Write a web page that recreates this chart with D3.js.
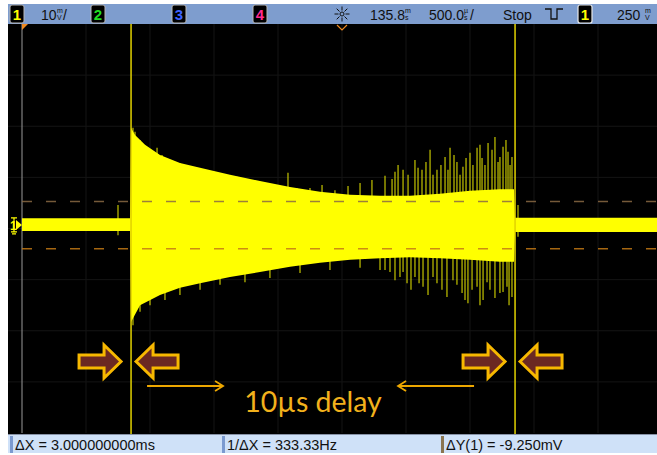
<!DOCTYPE html>
<html>
<head>
<meta charset="utf-8">
<script src="https://cdn.jsdelivr.net/npm/d3@7"></script>
<style>
  body { margin: 0; background: #fff; }
  svg { display: block; }
</style>
</head>
<body>
<div class="scope-view"></div>
<script>
// time in ms relative to trigger, voltage in mV relative to channel 1 ground
coreUpper = [[-2.5, 1.3], [-1.656, 1.3], [-1.648, 19.0], [-1.617, 17.6], [-1.539, 15.7], [-1.422, 13.7],
  [-1.266, 12.1], [-1.109, 11.2], [-0.875, 9.8], [-0.641, 8.6], [-0.406, 7.4], [-0.172, 6.5],
  [0.063, 5.9], [0.297, 5.7], [0.531, 5.7], [0.766, 6.1], [1.0, 6.7], [1.234, 7.0], [1.344, 7.0],
  [1.352, 1.4], [2.5, 1.4]];
coreLower = [[-2.5, -1.2], [-1.656, -1.2], [-1.648, -19.0], [-1.578, -15.7], [-1.422, -13.7],
  [-1.266, -12.3], [-1.109, -11.4], [-0.875, -10.2], [-0.641, -9.2], [-0.406, -8.2], [-0.172, -7.4],
  [0.063, -6.8], [0.297, -6.5], [0.531, -6.3], [0.766, -6.5], [1.0, -6.8], [1.234, -7.2], [1.344, -7.2],
  [1.352, -1.4], [2.5, -1.4]];
spikesUp = [[-1.75, 3.9], [-1.633, 19.0], [-1.617, 18.2], [-1.578, 16.6], [-1.539, 15.3], [-1.5, 14.3],
  [-1.445, 15.1], [-1.406, 13.7], [-1.367, 12.7], [-1.328, 12.3], [-1.266, 12.1], [-1.211, 11.4],
  [-1.133, 11.2], [-1.086, 10.4], [-1.031, 10.2], [-0.977, 9.8], [-0.898, 9.4], [-0.820, 9.4],
  [-0.742, 8.4], [-0.664, 8.4], [-0.586, 8.2], [-0.508, 7.8], [-0.422, 10.2], [-0.352, 7.2],
  [-0.25, 7.2], [-0.156, 7.8], [-0.055, 6.8], [0.047, 7.6], [0.141, 8.2], [0.234, 8.8], [0.336, 9.6],
  [0.391, 9.0], [0.414, 10.4], [0.438, 11.7], [0.477, 10.8], [0.516, 9.8], [0.570, 12.7], [0.594, 11.2],
  [0.625, 10.8], [0.656, 12.3], [0.688, 14.7], [0.711, 9.8], [0.742, 10.8], [0.773, 11.7],
  [0.805, 13.3], [0.828, 10.8], [0.844, 15.1], [0.875, 13.7], [0.898, 12.3], [0.922, 9.8],
  [0.945, 11.4], [0.969, 13.1], [1.0, 14.1], [1.023, 11.7], [1.055, 15.1], [1.078, 15.7],
  [1.094, 13.1], [1.117, 11.7], [1.141, 16.0], [1.172, 14.7], [1.195, 17.2], [1.219, 12.3],
  [1.234, 13.3], [1.258, 15.3], [1.281, 16.6], [1.297, 14.3], [1.313, 11.7], [1.328, 13.3], [1.375, 3.9]];
spikesDown = [[-1.75, -2.0], [-1.633, -19.6], [-1.578, -17.0], [-1.5, -15.7], [-1.383, -14.7],
  [-1.266, -13.7], [-1.109, -12.7], [-0.953, -11.7], [-0.758, -11.2], [-0.563, -10.4], [-0.328, -9.4],
  [-0.094, -8.8], [0.141, -8.4], [0.297, -8.8], [0.336, -8.8], [0.375, -9.2], [0.414, -10.8],
  [0.453, -10.2], [0.477, -9.2], [0.508, -11.4], [0.539, -12.7], [0.570, -10.2], [0.602, -11.4],
  [0.633, -12.1], [0.672, -13.7], [0.711, -10.2], [0.742, -11.4], [0.781, -12.7], [0.820, -14.1],
  [0.867, -10.8], [0.898, -11.7], [0.938, -13.3], [0.961, -14.7], [0.984, -15.3], [1.016, -12.7],
  [1.055, -12.1], [1.078, -15.7], [1.102, -14.7], [1.133, -11.2], [1.156, -12.7], [1.195, -14.3],
  [1.234, -13.3], [1.258, -13.1], [1.289, -12.1], [1.305, -15.7], [1.328, -14.1], [1.375, -2.3]];

cursorsX = [-1.648, 1.352];     // ms
cursorsY = [4.6, -4.65];        // mV
topLabels = ["10", "135.8", "500.0", "Stop", "250"];
bottomLabels = ["\u0394X = 3.000000000ms", "1/\u0394X = 333.33Hz", "\u0394Y(1) = -9.250mV"];
noteText = "10\u00b5s delay";

width = 657; height = 455;
svg = d3.select('.scope-view').append('svg')
    .attr("width", width).attr("height", height)
    .style("font-family", "'Liberation Sans', Arial, sans-serif");

// screen
svg.append("rect").attr("x", 8).attr("y", 24).attr("width", 649).attr("height", 410).attr("fill", "#000");

scaleX = d3.scaleLinear().domain([-2.5, 2.5]).range([22, 662]);
scaleY = d3.scaleLinear().domain([-40.7, 39.3]).range([433, 24]);
divX = d3.scaleLinear().domain([0, 10]).range([22, 662]);
divY = d3.scaleLinear().domain([0, 8]).range([24, 433]);

grid = svg.append("g").attr("stroke", "#141414").attr("stroke-width", 1);
grid.selectAll("line.v").data(d3.range(1, 10)).join("line")
    .attr("x1", d => divX(d)).attr("x2", d => divX(d)).attr("y1", 24).attr("y2", 433);
grid.selectAll("line.h").data(d3.range(1, 8)).join("line")
    .attr("x1", 8).attr("x2", 657).attr("y1", d => divY(d)).attr("y2", d => divY(d));

svg.append("line").attr("x1", divX(0)).attr("x2", divX(0)).attr("y1", 24).attr("y2", 433)
    .attr("stroke", "#9a9a9a").attr("stroke-width", 1);

// waveform: spikes first, dense core on top
spk = svg.append("g").attr("stroke", "#e2e200").attr("stroke-width", 1.3).attr("stroke-opacity", 0.8);
spk.selectAll("line.u").data(spikesUp.concat(spikesDown)).join("line")
    .attr("x1", d => scaleX(d[0])).attr("x2", d => scaleX(d[0]))
    .attr("y1", scaleY(0)).attr("y2", d => scaleY(d[1]));
line = d3.line().x(d => scaleX(d[0])).y(d => scaleY(d[1]));
svg.append("path")
    .attr("d", line(coreUpper.concat(coreLower.slice().reverse())) + "Z")
    .attr("fill", "#ffff00");

// horizontal cursors
svg.selectAll("line.cy").data(cursorsY).join("line")
    .attr("x1", 22).attr("x2", 657)
    .attr("y1", d => scaleY(d)).attr("y2", d => scaleY(d))
    .attr("stroke", (d, i) => i == 0 ? "#8a6a44" : "#c47a14")
    .attr("stroke-width", 1.5).attr("stroke-dasharray", "10,14").attr("opacity", 0.85);

// vertical cursors
svg.selectAll("line.cx").data(cursorsX).join("line")
    .attr("x1", d => scaleX(d)).attr("x2", d => scaleX(d)).attr("y1", 24).attr("y2", 434)
    .attr("stroke", "#e2d200").attr("stroke-width", 1.5);

// markers
svg.append("path").attr("d", `M${divX(0)},24 l6,0 l-6,6 z`).attr("fill", "#f08a20");
svg.append("path").attr("d", `M${divX(5) - 5},25 l5,5 l5,-5`).attr("fill", "none").attr("stroke", "#f08a20").attr("stroke-width", 1.2);
ch = svg.append("g").attr("fill", "#ffff00").attr("stroke", "#ffff00");
g0 = scaleY(0);
ch.append("path").attr("d", `M11,${g0 - 7} h6 M14,${g0 - 7} v14 M11,${g0 + 7} h6 M12,${g0 + 9} h4`).attr("fill", "none").attr("stroke-width", 1.2);
ch.append("text").attr("x", 10).attr("y", g0 + 5).attr("font-size", 12).attr("stroke", "none").attr("font-weight", "bold").text("1");
ch.append("path").attr("d", `M16,${g0 - 5} L22,${g0} L16,${g0 + 5} z`).attr("stroke", "none");

// annotation arrows
function blockArrow(tip, y, dir) {
  hl = 17, hh = 16.5, bh = 6.5, len = 42;
  return `M${tip},${y} L${tip - dir * hl},${y - hh} L${tip - dir * hl},${y - bh} L${tip - dir * len},${y - bh}
    L${tip - dir * len},${y + bh} L${tip - dir * hl},${y + bh} L${tip - dir * hl},${y + hh} Z`;
}
ay = 361.5;
cursorsX.forEach(c => {
  cx = scaleX(c);
  [[cx - 10, 1], [cx + 5, -1]].forEach(a => {
    svg.append("path").attr("d", blockArrow(a[0], ay, a[1]))
        .attr("fill", "#6b2822").attr("stroke", "#f7b800").attr("stroke-width", 3).attr("stroke-linejoin", "miter");
  });
});
c1 = scaleX(cursorsX[0]); c2 = scaleX(cursorsX[1]);
ly = 386;
svg.append("path").attr("d", `M${c1 + 16},${ly} H${c1 + 92} M${c1 + 84},${ly - 5} L${c1 + 92},${ly} L${c1 + 84},${ly + 5}`)
    .attr("fill", "none").attr("stroke", "#eda700").attr("stroke-width", 1.8);
svg.append("path").attr("d", `M${c2 - 41},${ly} H${c2 - 117} M${c2 - 109},${ly - 5} L${c2 - 117},${ly} L${c2 - 109},${ly + 5}`)
    .attr("fill", "none").attr("stroke", "#eda700").attr("stroke-width", 1.8);
svg.append("text").attr("x", (c1 + c2) / 2 - 10).attr("y", 412).attr("text-anchor", "middle")
    .attr("font-family", "Lato, 'Open Sans', sans-serif").attr("font-size", 28.5).attr("fill", "#f2b11c")
    .text(noteText);

// top status bar
svg.append("rect").attr("x", 8).attr("y", 4).attr("width", 649).attr("height", 20).attr("fill", "#7e9dce");
chanColors = ["#ffff00", "#22dd22", "#3f63ff", "#ff2a90"];
chanBoxX = [10, 91, 172, 253];
chanBoxX.forEach((x, i) => {
  svg.append("rect").attr("x", x).attr("y", 5).attr("width", 14).attr("height", 18).attr("rx", 2)
      .attr("fill", "#000").attr("stroke", "#b8b8b8").attr("stroke-width", 1);
  svg.append("text").attr("x", x + 7).attr("y", 20).attr("text-anchor", "middle").attr("font-size", 15)
      .attr("font-weight", "bold").attr("fill", chanColors[i]).text(i + 1);
});
svg.append("rect").attr("x", 578).attr("y", 5).attr("width", 14).attr("height", 18).attr("rx", 2)
    .attr("fill", "#000").attr("stroke", "#e8e8e8").attr("stroke-width", 1.2);
svg.append("text").attr("x", 585).attr("y", 20).attr("text-anchor", "middle").attr("font-size", 15)
    .attr("font-weight", "bold").attr("fill", "#ffff00").text("1");

function unitStack(x, top, bottom) {
  svg.append("text").attr("x", x).attr("y", 13).attr("font-size", 7).attr("fill", "#111").text(top);
  svg.append("text").attr("x", x).attr("y", 20).attr("font-size", 7).attr("fill", "#111").text(bottom);
}
tb = svg.append("g").attr("font-size", 14).attr("fill", "#111");
tb.append("text").attr("x", 41).attr("y", 20).text(topLabels[0]);
unitStack(57, "m", "V"); tb.append("text").attr("x", 63).attr("y", 20).text("/");
tb.append("text").attr("x", 370).attr("y", 20).text(topLabels[1]);
unitStack(405, "m", "s");
tb.append("text").attr("x", 429).attr("y", 20).text(topLabels[2]);
unitStack(464, "\u00b5", "s"); tb.append("text").attr("x", 470).attr("y", 20).text("/");
tb.append("text").attr("x", 503).attr("y", 20).text(topLabels[3]);
tb.append("text").attr("x", 617).attr("y", 20).text(topLabels[4]);
unitStack(645, "m", "V");
// run-state icons
sun = svg.append("g").attr("stroke", "#111").attr("stroke-width", 1);
d3.range(8).forEach(k => {
  a = k * Math.PI / 4;
  sun.append("line").attr("x1", 342 + 3.5 * Math.cos(a)).attr("y1", 14 + 3.5 * Math.sin(a))
      .attr("x2", 342 + 7.5 * Math.cos(a)).attr("y2", 14 + 7.5 * Math.sin(a));
});
sun.append("circle").attr("cx", 342).attr("cy", 14).attr("r", 2).attr("fill", "none");
svg.append("path").attr("d", "M545,9 h6 v10 h6 v-10 h6").attr("fill", "none").attr("stroke", "#111").attr("stroke-width", 1.3);

// bottom measurement bar
svg.append("rect").attr("x", 8).attr("y", 434).attr("width", 649).attr("height", 19).attr("fill", "#cfe1f8");
svg.append("line").attr("x1", 8).attr("x2", 657).attr("y1", 434.5).attr("y2", 434.5).attr("stroke", "#8792a6");
sepX = [10, 222, 441];
sepX.forEach((x, i) => {
  svg.append("rect").attr("x", x).attr("y", 436).attr("width", 3).attr("height", 17).attr("fill", i == 2 ? "#8a7550" : "#7b9ad0");
  svg.append("text").attr("x", x + 5).attr("y", 450).attr("font-size", 14.5).attr("fill", "#111").text(bottomLabels[i]);
});
</script>
</body>
</html>
